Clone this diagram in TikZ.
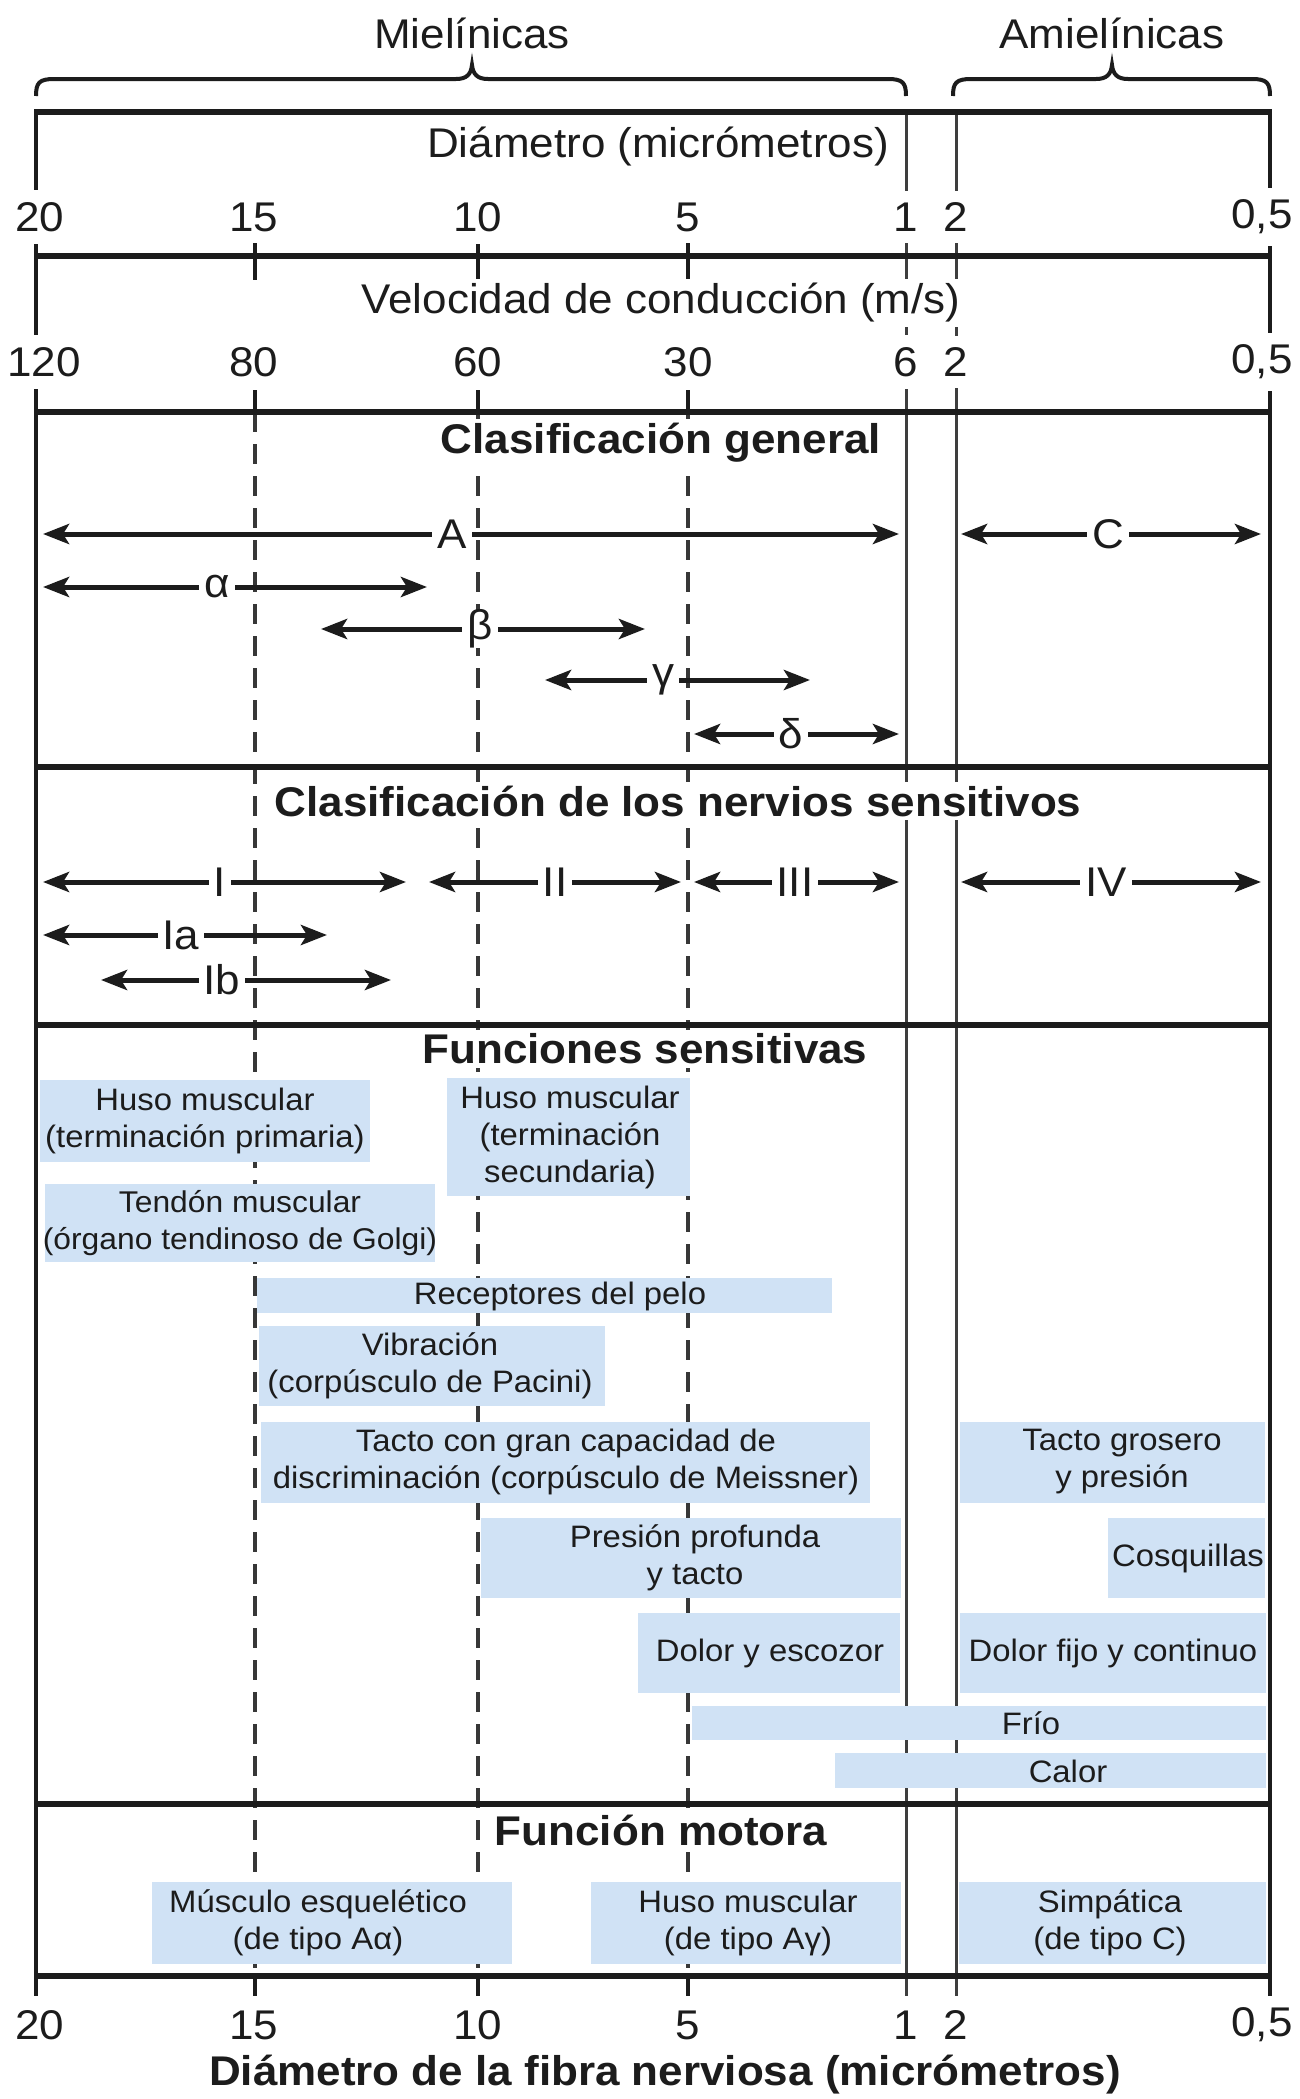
\documentclass[tikz,border=0pt]{standalone}
\usepackage{fontspec}
\setmainfont{Liberation Sans}[FakeStretch=1.06]
\usetikzlibrary{arrows.meta}
\definecolor{boxblue}{RGB}{208,226,245}
\definecolor{ink}{RGB}{28,28,28}
\definecolor{dashgray}{RGB}{55,55,55}
\begin{document}
\begin{tikzpicture}[x=1pt,y=-1pt,
  every node/.style={text=ink, inner sep=0pt},
  hline/.style={line width=5.5pt, draw=ink},
  border/.style={line width=4.5pt, draw=ink},
  sepline/.style={line width=3pt, draw=ink!85},
  dashline/.style={line width=3.5pt, draw=dashgray, dash pattern=on 20pt off 12pt},
  tickmark/.style={line width=3.5pt, draw=ink},
  lbl/.style={font=\fontsize{41.5}{46}\selectfont, fill=white, inner xsep=4pt, inner ysep=4pt},
  numlbl/.style={font=\fontsize{41.5}{46}\selectfont, fill=white, inner xsep=2pt, inner ysep=12pt},
  head/.style={font=\bfseries\fontsize{41.5}{46}\selectfont, fill=white, inner xsep=6pt, inner ysep=4pt},
  rng/.style={line width=5pt, draw=ink, {Stealth[length=26pt,width=20pt,inset=6pt]}-{Stealth[length=26pt,width=20pt,inset=6pt]}},
  rnglbl/.style={font=\fontsize{41.5}{46}\selectfont, fill=white, inner xsep=5pt, inner ysep=0pt},
  fbox/.style={fill=boxblue},
  ftext/.style={font=\fontsize{31}{37}\selectfont, align=center},
  bracestyle/.style={line width=4pt, draw=ink},
]
\useasboundingbox[fill=white] (0,0) rectangle (1299,2099);

% ---- dashed guide lines (15, 10, 5) ----
\foreach \xx in {255,478,688}{
  \draw[dashline] (\xx,412) -- (\xx,1976);
  \draw[tickmark] (\xx,243) -- (\xx,280);
  \draw[tickmark] (\xx,390) -- (\xx,412);
  \draw[tickmark] (\xx,1976) -- (\xx,1996);
}
% ---- vertical separators 1 and 2, borders ----
\draw[sepline] (906,112) -- (906,1996);
\draw[sepline] (956,112) -- (956,1996);
\draw[border] (36,112) -- (36,1996);
\draw[border] (1270,112) -- (1270,1996);

% ---- horizontal lines ----
\foreach \yy in {112,256,412,767,1025,1804,1976}{
  \draw[hline] (34,\yy) -- (1272,\yy);
}

% ---- braces ----
\draw[bracestyle] (36,96) .. controls (36,83) and (39,79) .. (54,79) -- (456,79)
  .. controls (467,79) and (471,74) .. (472,65) .. controls (473,74) and (477,79) .. (488,79)
  -- (888,79) .. controls (903,79) and (906,83) .. (906,96);
\draw[bracestyle] (953,96) .. controls (953,83) and (956,79) .. (971,79) -- (1096,79)
  .. controls (1107,79) and (1111,74) .. (1112,65) .. controls (1113,74) and (1117,79) .. (1128,79)
  -- (1252,79) .. controls (1267,79) and (1270,83) .. (1270,96);
\node[font=\fontsize{41.5}{46}\selectfont] (miel) at (472,33) {Mielínicas};
\node[font=\fontsize{41.5}{46}\selectfont] (amiel) at (1112,33) {Amielínicas};

% ---- scales ----
\node[lbl] (diam) at (658,147) {Diámetro (micrómetros)};
\node[numlbl] (d20) at (40,217) {20};
\node[numlbl] (d15) at (254,217) {15};
\node[numlbl] (d10) at (478,217) {10};
\node[numlbl] (d5) at (688,217) {5};
\node[numlbl] (d1) at (906,217) {1};
\node[numlbl] (d2) at (956,217) {2};
\node[numlbl] (d05) at (1262,217) {0,5};

\node[lbl] (vel) at (661,303) {Velocidad de conducción (m/s)};
\node[numlbl] (v120) at (44,362) {120};
\node[numlbl] (v80) at (254,362) {80};
\node[numlbl] (v60) at (478,362) {60};
\node[numlbl] (v30) at (688,362) {30};
\node[numlbl] (v6) at (906,362) {6};
\node[numlbl] (v2) at (956,362) {2};
\node[numlbl] (v05) at (1262,362) {0,5};

% ---- Clasificación general ----
\node[head] (hgen) at (661,443) {Clasificación general};
\coordinate (Al) at (43,534); \coordinate (Ar) at (899,534);
\coordinate (Cl) at (961,534); \coordinate (Cr) at (1261,534);
\coordinate (al) at (43,587); \coordinate (ar) at (427,587);
\coordinate (bl) at (321,629); \coordinate (br) at (645,629);
\coordinate (gl) at (545,680); \coordinate (gr) at (810,680);
\coordinate (dl) at (694,734); \coordinate (dr) at (899,734);
\draw[rng] (Al) -- (Ar);
\draw[rng] (Cl) -- (Cr);
\draw[rng] (al) -- (ar);
\draw[rng] (bl) -- (br);
\draw[rng] (gl) -- (gr);
\draw[rng] (dl) -- (dr);
\node[rnglbl] (lA) at (452,534) {A};
\node[rnglbl] (lC) at (1108,534) {C};
\node[rnglbl] (lal) at (217,587) {α};
\node[rnglbl] (lbe) at (480,629) {β};
\node[rnglbl] (lga) at (663,680) {γ};
\node[rnglbl] (lde) at (791,734) {δ};

% ---- Clasificación de los nervios sensitivos ----
\node[head] (hsens) at (678,801) {Clasificación de los nervios sensitivos};
\coordinate (Il) at (43,882); \coordinate (Ir) at (406,882);
\coordinate (IIl) at (429,882); \coordinate (IIr) at (681,882);
\coordinate (IIIl) at (694,882); \coordinate (IIIr) at (899,882);
\coordinate (IVl) at (961,882); \coordinate (IVr) at (1261,882);
\coordinate (Ial) at (43,935); \coordinate (Iar) at (327,935);
\coordinate (Ibl) at (101,980); \coordinate (Ibr) at (391,980);
\draw[rng] (Il) -- (Ir);
\draw[rng] (IIl) -- (IIr);
\draw[rng] (IIIl) -- (IIIr);
\draw[rng] (IVl) -- (IVr);
\draw[rng] (Ial) -- (Iar);
\draw[rng] (Ibl) -- (Ibr);
\node[rnglbl] (lI) at (220,882) {I};
\node[rnglbl] (lII) at (555,882) {II};
\node[rnglbl] (lIII) at (795,882) {III};
\node[rnglbl] (lIV) at (1106,882) {IV};
\node[rnglbl] (lIa) at (181,935) {Ia};
\node[rnglbl] (lIb) at (222,980) {Ib};

% ---- Funciones sensitivas ----
\node[head] (hfun) at (645,1049) {Funciones sensitivas};
\fill[fbox] (40,1080) rectangle (370,1162);
\node[ftext] (f1) at (205,1121) {Huso muscular\\(terminación primaria)};
\fill[fbox] (447,1078) rectangle (690,1196);
\node[ftext] (f2) at (570,1137) {Huso muscular\\(terminación\\secundaria)};
\fill[fbox] (45,1184) rectangle (435,1262);
\node[ftext, font=\fontsize{30}{37}\selectfont] (f3) at (240,1223) {Tendón muscular\\(órgano tendinoso de Golgi)};
\fill[fbox] (257,1278) rectangle (832,1313);
\node[ftext] (f4) at (560,1296) {Receptores del pelo};
\fill[fbox] (259,1326) rectangle (605,1406);
\node[ftext] (f5) at (430,1366) {Vibración\\(corpúsculo de Pacini)};
\fill[fbox] (261,1422) rectangle (870,1503);
\node[ftext] (f6) at (566,1462) {Tacto con gran capacidad de\\discriminación (corpúsculo de Meissner)};
\fill[fbox] (960,1422) rectangle (1265,1503);
\node[ftext] (f7) at (1122,1462) {Tacto grosero\\y presión};
\fill[fbox] (481,1518) rectangle (901,1598);
\node[ftext] (f8) at (695,1558) {Presión profunda\\y tacto};
\fill[fbox] (1108,1518) rectangle (1265,1598);
\node[ftext] (f9) at (1188,1558) {Cosquillas};
\fill[fbox] (638,1613) rectangle (900,1693);
\node[ftext] (f10) at (770,1653) {Dolor y escozor};
\fill[fbox] (960,1613) rectangle (1266,1693);
\node[ftext] (f11) at (1113,1653) {Dolor fijo y continuo};
\fill[fbox] (692,1706) rectangle (1266,1740);
\node[ftext] (f12) at (1031,1723) {Frío};
\fill[fbox] (835,1753) rectangle (1266,1788);
\node[ftext] (f13) at (1068,1771) {Calor};

% ---- Función motora ----
\node[head] (hmot) at (661,1830) {Función motora};
\fill[fbox] (152,1882) rectangle (512,1964);
\node[ftext] (m1) at (318,1923) {Músculo esquelético\\(de tipo Aα)};
\fill[fbox] (591,1882) rectangle (901,1964);
\node[ftext] (m2) at (748,1923) {Huso muscular\\(de tipo Aγ)};
\fill[fbox] (959,1882) rectangle (1266,1964);
\node[ftext] (m3) at (1110,1923) {Simpática\\(de tipo C)};

% ---- bottom scale ----
\node[numlbl, fill=none] (b20) at (40,2025) {20};
\node[numlbl, fill=none] (b15) at (254,2025) {15};
\node[numlbl, fill=none] (b10) at (478,2025) {10};
\node[numlbl, fill=none] (b5) at (688,2025) {5};
\node[numlbl, fill=none] (b1) at (906,2025) {1};
\node[numlbl, fill=none] (b2) at (956,2025) {2};
\node[numlbl, fill=none] (b05) at (1262,2025) {0,5};
\node[font=\bfseries\fontsize{41.5}{46}\selectfont] (btitle) at (665,2075) {Diámetro de la fibra nerviosa (micrómetros)};
\end{tikzpicture}
\end{document}
